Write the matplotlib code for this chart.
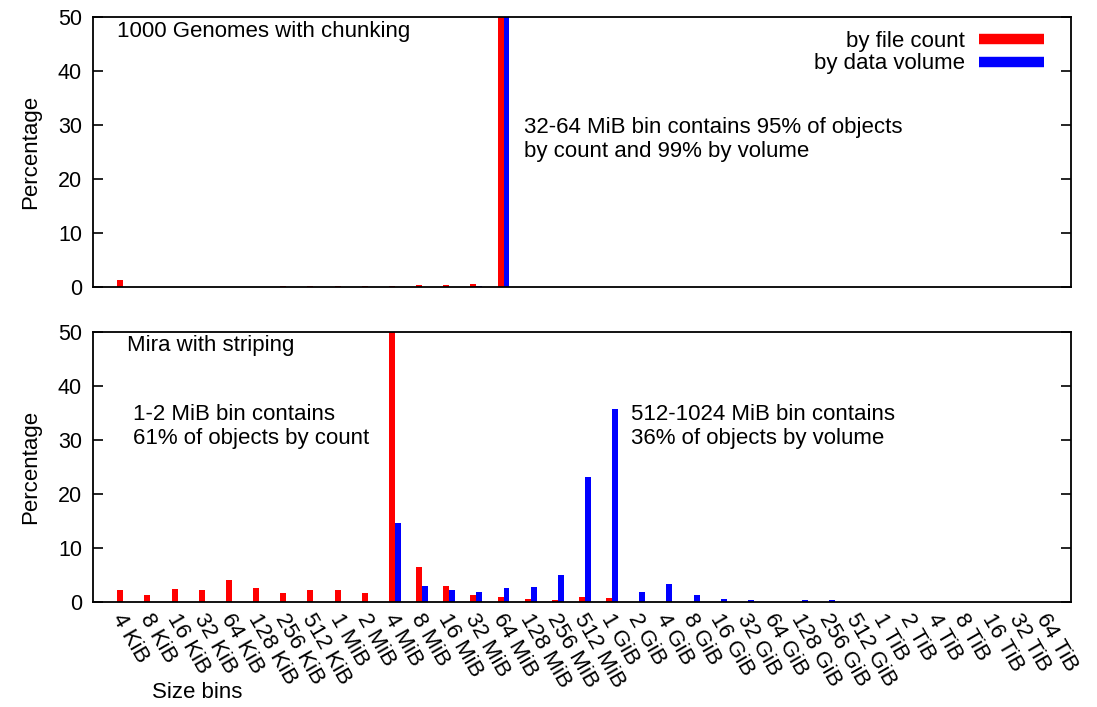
import numpy as np
import matplotlib
matplotlib.use("Agg")
import matplotlib.pyplot as plt
import matplotlib.transforms as mtransforms
from matplotlib.lines import Line2D

plt.rcParams['font.family'] = ['Liberation Sans', 'DejaVu Sans']
plt.rcParams['font.size'] = 16

# サイズのビン
bins = ["4 KiB", "8 KiB", "16 KiB", "32 KiB", "64 KiB", "128 KiB", "256 KiB", "512 KiB",
        "1 MiB", "2 MiB", "4 MiB", "8 MiB", "16 MiB", "32 MiB", "64 MiB", "128 MiB",
        "256 MiB", "512 MiB", "1 GiB", "2 GiB", "4 GiB", "8 GiB", "16 GiB", "32 GiB",
        "64 GiB", "128 GiB", "256 GiB", "512 GiB", "1 TiB", "2 TiB", "4 TiB", "8 TiB",
        "16 TiB", "32 TiB", "64 TiB"]

# 1000 Genomes (chunking)
genomes_count = [1.3, 0, 0, 0, 0, 0, 0.25, 0.25, 0.25, 0.25, 0.25, 0.4, 0.4, 0.55, 95,
                 0, 0, 0, 0, 0, 0, 0, 0, 0, 0, 0, 0, 0, 0, 0, 0, 0, 0, 0, 0]
genomes_volume = [0, 0, 0, 0, 0, 0, 0, 0, 0, 0, 0, 0, 0, 0.2, 99,
                  0, 0, 0, 0, 0, 0, 0, 0, 0, 0, 0, 0, 0, 0, 0, 0, 0, 0, 0, 0]

# Mira (striping)
mira_count = [2.2, 1.3, 2.4, 2.2, 4.1, 2.6, 1.7, 2.2, 2.2, 1.7, 61, 6.5, 3.0, 1.3, 0.9,
              0.6, 0.3, 1.0, 0.8, 0, 0, 0, 0, 0, 0, 0, 0, 0, 0, 0, 0, 0, 0, 0, 0]
mira_volume = [0, 0, 0, 0, 0, 0, 0, 0, 0, 0, 14.6, 3.0, 2.2, 1.9, 2.6,
               2.8, 5.0, 23.1, 35.7, 1.9, 3.4, 1.3, 0.6, 0.3, 0, 0.3, 0.3, 0, 0, 0, 0, 0, 0, 0, 0]

x = np.arange(len(bins))
w = 0.22

fig = plt.figure(figsize=(10.97, 7.07), dpi=100)
ax1 = fig.add_axes([0.0848, 0.594, 0.8915, 0.382])
ax2 = fig.add_axes([0.0848, 0.1485, 0.8915, 0.382])

def setup(ax):
    ax.set_xlim(-1, len(bins))
    ax.set_ylim(0, 50)
    ax.set_yticks([0, 10, 20, 30, 40, 50])
    ax.tick_params(axis='y', direction='in', length=7, width=1.2, right=True, labelsize=15.5, pad=8)
    ax.tick_params(axis='x', length=0)
    for s in ax.spines.values():
        s.set_linewidth(1.3)
    ax.set_ylabel("Percentage", fontsize=16, labelpad=12)

ax1.bar(x, genomes_count, width=w, color='#ff0000')
ax1.bar(x + w, genomes_volume, width=w, color='#0000ff')
setup(ax1)
ax1.set_xticks([])
ax1.text(0.025, 0.947, "1000 Genomes with chunking", transform=ax1.transAxes, ha='left', va='center')
ax1.text(0.441, 0.547, "32-64 MiB bin contains 95% of objects\nby count and 99% by volume",
         transform=ax1.transAxes, ha='left', va='center', linespacing=1.2)
handles = [Line2D([], [], color='#ff0000', lw=7.5, solid_capstyle='butt'),
           Line2D([], [], color='#0000ff', lw=7.5, solid_capstyle='butt')]
ax1.legend(handles, ["by file count", "by data volume"], loc='upper right', frameon=False,
           markerfirst=False, handlelength=2.95, handletextpad=0.6, labelspacing=0.06,
           bbox_to_anchor=(0.993, 1.022), fontsize=16)

ax2.bar(x, mira_count, width=w, color='#ff0000')
ax2.bar(x + w, mira_volume, width=w, color='#0000ff')
setup(ax2)
ax2.set_xticks(x)
ax2.set_xticklabels(bins, rotation=-60, ha='left', va='top', rotation_mode='anchor', fontsize=16)
# ラベルを少し右下へずらす
shift = mtransforms.ScaledTranslation(6 / 100, -3 / 100, fig.dpi_scale_trans)
for lbl in ax2.get_xticklabels():
    lbl.set_transform(lbl.get_transform() + shift)
ax2.text(0.035, 0.95, "Mira with striping", transform=ax2.transAxes, ha='left', va='center')
ax2.text(0.041, 0.65, "1-2 MiB bin contains\n61% of objects by count",
         transform=ax2.transAxes, ha='left', va='center', linespacing=1.2)
ax2.text(0.550, 0.65, "512-1024 MiB bin contains\n36% of objects by volume",
         transform=ax2.transAxes, ha='left', va='center', linespacing=1.2)

fig.text(0.139, 0.021, "Size bins", ha='left', va='center')

fig.savefig("out.png", dpi=100)
